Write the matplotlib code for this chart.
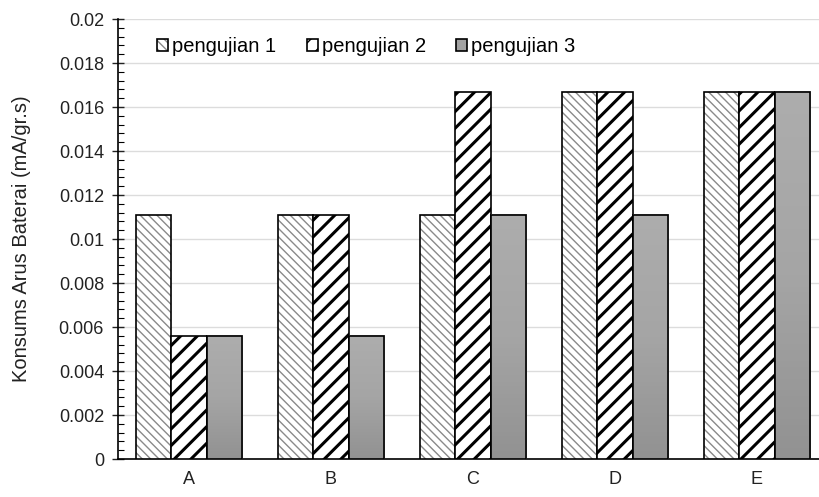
import matplotlib

matplotlib.use("Agg")
import matplotlib.pyplot as plt
import numpy as np
from matplotlib.colors import LinearSegmentedColormap, to_rgba
from matplotlib.ticker import MultipleLocator

plt.rcParams["font.family"] = ["Liberation Sans", "DejaVu Sans"]

# data
categories = ["A", "B", "C", "D", "E"]
series_names = ["pengujian 1", "pengujian 2", "pengujian 3"]
pengujian_1 = [0.0111, 0.0111, 0.0111, 0.0167, 0.0167]
pengujian_2 = [0.0056, 0.0111, 0.0167, 0.0167, 0.0167]
pengujian_3 = [0.0056, 0.0056, 0.0111, 0.0111, 0.0167]
y_ticks = [0, 0.002, 0.004, 0.006, 0.008, 0.01, 0.012, 0.014, 0.016, 0.018, 0.02]
y_tick_labels = ["0", "0.002", "0.004", "0.006", "0.008", "0.01",
                 "0.012", "0.014", "0.016", "0.018", "0.02"]

fig = plt.figure(figsize=(8.19, 4.97), dpi=100)
ax = fig.add_axes([118 / 819, 1 - 459 / 497, 701 / 819, 440 / 497])

x = np.arange(len(categories))
w = 0.25
styles = [
    dict(facecolor="white", hatch="\\\\\\\\", hatch_color="#8a8a8a", hatch_lw=1.0),
    dict(facecolor="white", hatch="//", hatch_color="black", hatch_lw=2.2),
    dict(facecolor="#a2a2a2", hatch=None, hatch_color="black", hatch_lw=1.0),
]
grey_grad = LinearSegmentedColormap.from_list("grey_grad", ["#929292", "#a5a5a5", "#adadad"])
all_series = [pengujian_1, pengujian_2, pengujian_3]
for i, (vals, name, st) in enumerate(zip(all_series, series_names, styles)):
    bars = ax.bar(x + (i - 1) * w, vals, width=w, facecolor=st["facecolor"],
                  edgecolor="black", linewidth=1.2, hatch=st["hatch"], label=name, zorder=3)
    for b in bars:
        if st["hatch"]:
            b._hatch_color = to_rgba(st["hatch_color"])
            b.set_hatch_linewidth(st["hatch_lw"])
        else:
            # soft vertical shading like the original Excel fill
            x0, h = b.get_x(), b.get_height()
            grad = np.linspace(0, 1, 64).reshape(-1, 1)
            ax.imshow(grad, extent=[x0, x0 + w, 0, h], origin="lower", aspect="auto",
                      cmap=grey_grad, zorder=3.1)
            ax.bar(x0 + w / 2, h, width=w, fill=False, edgecolor="black",
                   linewidth=1.2, zorder=3.2)

ax.set_xlim(-0.5, -0.5 + 701 / 142)
ax.set_ylim(0, 0.02)
ax.set_aspect("auto")
ax.set_xticks(x)
ax.set_xticklabels(categories)
ax.set_yticks(y_ticks)
ax.set_yticklabels(y_tick_labels)
ax.yaxis.set_minor_locator(MultipleLocator(0.0004))
ax.tick_params(axis="x", length=0, labelsize=13, pad=9, colors="#222222")
ax.tick_params(axis="y", which="major", direction="inout", length=8, width=1,
               labelsize=13, pad=6, colors="#222222")
ax.tick_params(axis="y", which="minor", direction="in", length=4, width=0.8)
ax.grid(axis="y", color="#dcdcdc", linewidth=1, zorder=0)
ax.set_axisbelow(True)
for side in ("top", "right"):
    ax.spines[side].set_visible(False)
ax.spines["left"].set_linewidth(1.2)
ax.spines["bottom"].set_linewidth(1.2)
ax.set_ylabel("Konsums Arus Baterai (mA/gr.s)", fontsize=14.5, color="#222222")
ax.yaxis.set_label_coords(-87 / 701, 0.5)

leg = ax.legend(loc="upper left", ncol=3, frameon=False, fontsize=14.5,
                handlelength=0.55, handleheight=0.55, handletextpad=0.2,
                columnspacing=1.5, bbox_to_anchor=(0.03, 1.0))

fig.savefig("out.png", dpi=100, facecolor="white")
